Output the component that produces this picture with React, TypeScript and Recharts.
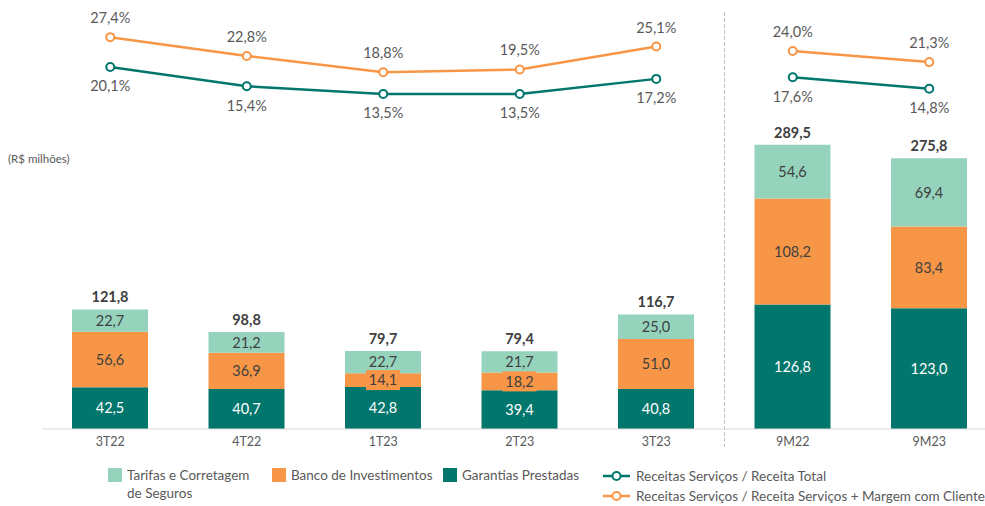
import React from 'react';
import { ComposedChart, Bar, Line, XAxis, YAxis, LabelList, ReferenceLine } from 'recharts';

const categories = ['3T22', '4T22', '1T23', '2T23', '3T23', '9M22', '9M23'];
const periods = ['Q', 'Q', 'Q', 'Q', 'Q', 'M', 'M'];
const tarifas = [22.7, 21.2, 22.7, 21.7, 25.0, 54.6, 69.4];
const banco = [56.6, 36.9, 14.1, 18.2, 51.0, 108.2, 83.4];
const garantias = [42.5, 40.7, 42.8, 39.4, 40.8, 126.8, 123.0];
const totals = [121.8, 98.8, 79.7, 79.4, 116.7, 289.5, 275.8];
const pctReceitaTotal = [20.1, 15.4, 13.5, 13.5, 17.2, 17.6, 14.8];
const pctReceitaMargem = [27.4, 22.8, 18.8, 19.5, 25.1, 24.0, 21.3];

const seriesNames = {
  tarifas: 'Tarifas e Corretagem de Seguros',
  banco: 'Banco de Investimentos',
  garantias: 'Garantias Prestadas',
  pctTotal: 'Receitas Serviços / Receita Total',
  pctMargem: 'Receitas Serviços / Receita Serviços + Margem com Cliente',
};

const TEAL = '#00766D';
const ORANGE = '#F79646';
const MINT = '#95D3BD';
const GREY = '#595959';
const DARK = '#404040';
const FONT = "Lato, 'Liberation Sans', sans-serif";

const data = categories.map((c, i) => ({
  cat: c,
  garantias: garantias[i],
  banco: banco[i],
  tarifas: tarifas[i],
  total: totals[i],
  totalQ: periods[i] === 'Q' ? pctReceitaTotal[i] : null,
  totalM: periods[i] === 'M' ? pctReceitaTotal[i] : null,
  margemQ: periods[i] === 'Q' ? pctReceitaMargem[i] : null,
  margemM: periods[i] === 'M' ? pctReceitaMargem[i] : null,
}));

const fmt = (v: any) => Number(v).toFixed(1).replace('.', ',');

const makeInside = (color: string, bg?: string) => (props: any) => {
  const { value } = props;
  if (value == null) return null;
  const x = Number(props.x), y = Number(props.y), w = Number(props.width), h = Number(props.height);
  const cx = x + w / 2;
  const cy = y + h / 2;
  const txt = fmt(value);
  const bw = txt.length * 7.5 + 4;
  return (
    <g>
      {bg ? <rect x={cx - bw / 2} y={cy - 10} width={bw} height={20} fill={bg} /> : null}
      <text x={cx} y={cy} dy="0.36em" textAnchor="middle" fill={color} fontSize={14.5} fontFamily={FONT}>
        {txt}
      </text>
    </g>
  );
};

const TotalLabel = (props: any) => {
  const { value } = props;
  if (value == null) return null;
  const x = Number(props.x), y = Number(props.y), w = Number(props.width);
  return (
    <text x={x + w / 2} y={y - 7} textAnchor="middle" fill={DARK} fontSize={14.5} fontWeight="bold" fontFamily={FONT}>
      {fmt(value)}
    </text>
  );
};

const makePctLabel = (above: boolean) => (props: any) => {
  const { value } = props;
  if (value == null) return null;
  const x = Number(props.x), y = Number(props.y);
  return (
    <text x={x} y={above ? y - 14 : y + 14} dy={above ? 0 : '0.71em'} textAnchor="middle" fill={GREY} fontSize={14.5} fontFamily={FONT}>
      {fmt(value) + '%'}
    </text>
  );
};

const SepLine = (props: any) => {
  const x1 = Number(props.x1), y1 = Number(props.y1), x2 = Number(props.x2), y2 = Number(props.y2);
  return <line x1={x1} x2={x2} y1={Math.min(y1, y2) + 2} y2={Math.max(y1, y2) + 18} stroke="#BFBFBF" strokeWidth={1} strokeDasharray="4 2" />;
};

const dot = (color: string) => ({ r: 4, fill: '#fff', stroke: color, strokeWidth: 2 });

const SquareItem = ({ left, top, color, label, width }: any) => (
  <div style={{ position: 'absolute', left, top, display: 'flex', alignItems: 'flex-start', whiteSpace: width ? 'normal' : 'nowrap' }}>
    <div style={{ width: 14, height: 14, background: color, marginTop: 2, flex: 'none' }} />
    <div style={{ marginLeft: 5, width, lineHeight: '18px' }}>{label}</div>
  </div>
);

const LineItem = ({ left, top, color, label }: any) => (
  <div style={{ position: 'absolute', left, top, display: 'flex', alignItems: 'center', whiteSpace: 'nowrap' }}>
    <svg width={27} height={12} style={{ flex: 'none' }}>
      <line x1={0} x2={27} y1={6} y2={6} stroke={color} strokeWidth={2.5} />
      <circle cx={13.5} cy={6} r={4} fill="#fff" stroke={color} strokeWidth={2} />
    </svg>
    <div style={{ marginLeft: 6, lineHeight: '18px' }}>{label}</div>
  </div>
);

export default function App() {
  return (
    <div style={{ position: 'absolute', left: 0, top: 0, width: 985, height: 506, overflow: 'hidden', background: '#fff' }}>
      <ComposedChart
        width={985}
        height={506}
        data={data}
        margin={{ top: 10, right: -12.5, left: 42, bottom: 57 }}
      >
        <XAxis
          dataKey="cat"
          height={20}
          interval={0}
          tickLine={false}
          axisLine={{ stroke: '#D9D9D9', strokeWidth: 1 }}
          tick={{ fill: GREY, fontSize: 12.5, fontFamily: FONT }}
        />
        <YAxis yAxisId="bar" hide domain={[0, 427]} />
        <YAxis yAxisId="pct" hide domain={[-68.4, 34.04]} />
        <ReferenceLine yAxisId="bar" x="9M22" position="start" shape={SepLine} ifOverflow="visible" stroke="#BFBFBF" strokeDasharray="4 2" />
        <Bar yAxisId="bar" dataKey="garantias" name={seriesNames.garantias} stackId="a" fill={TEAL} barSize={76} isAnimationActive={false}>
          <LabelList dataKey="garantias" content={makeInside('#FFFFFF')} />
        </Bar>
        <Bar yAxisId="bar" dataKey="banco" name={seriesNames.banco} stackId="a" fill={ORANGE} barSize={76} isAnimationActive={false}>
          <LabelList dataKey="banco" content={makeInside(DARK, ORANGE)} />
        </Bar>
        <Bar yAxisId="bar" dataKey="tarifas" name={seriesNames.tarifas} stackId="a" fill={MINT} barSize={76} isAnimationActive={false}>
          <LabelList dataKey="tarifas" content={makeInside(DARK)} />
          <LabelList dataKey="total" content={TotalLabel} />
        </Bar>
        <Line yAxisId="pct" dataKey="margemQ" stroke={ORANGE} strokeWidth={2.5} dot={dot(ORANGE)} activeDot={false} isAnimationActive={false}>
          <LabelList dataKey="margemQ" content={makePctLabel(true)} />
        </Line>
        <Line yAxisId="pct" dataKey="margemM" stroke={ORANGE} strokeWidth={2.5} dot={dot(ORANGE)} activeDot={false} isAnimationActive={false}>
          <LabelList dataKey="margemM" content={makePctLabel(true)} />
        </Line>
        <Line yAxisId="pct" dataKey="totalQ" stroke={TEAL} strokeWidth={2.5} dot={dot(TEAL)} activeDot={false} isAnimationActive={false}>
          <LabelList dataKey="totalQ" content={makePctLabel(false)} />
        </Line>
        <Line yAxisId="pct" dataKey="totalM" stroke={TEAL} strokeWidth={2.5} dot={dot(TEAL)} activeDot={false} isAnimationActive={false}>
          <LabelList dataKey="totalM" content={makePctLabel(false)} />
        </Line>
      </ComposedChart>
      <div style={{ position: 'absolute', left: 8, top: 152, fontFamily: FONT, fontSize: 11.5, color: GREY }}>(R$ milhões)</div>
      <div style={{ position: 'absolute', left: 0, top: 0, width: 985, fontFamily: FONT, fontSize: 13.5, color: GREY }}>
        <SquareItem left={108} top={466} color={MINT} label={seriesNames.tarifas} width={136} />
        <SquareItem left={272} top={466} color={ORANGE} label={seriesNames.banco} />
        <SquareItem left={443} top={466} color={TEAL} label={seriesNames.garantias} />
        <LineItem left={603} top={467} color={TEAL} label={seriesNames.pctTotal} />
        <LineItem left={603} top={487} color={ORANGE} label={seriesNames.pctMargem} />
      </div>
    </div>
  );
}
